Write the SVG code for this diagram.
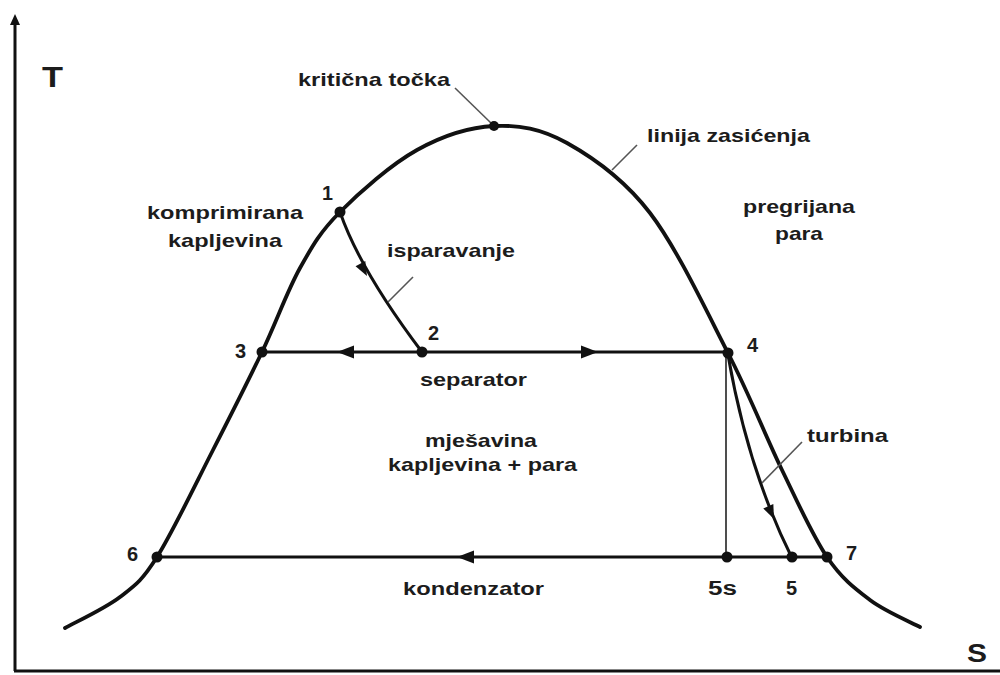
<svg xmlns="http://www.w3.org/2000/svg" xmlns:xlink="http://www.w3.org/1999/xlink" width="1000" height="675" viewBox="0 0 1000 675">
<style>
text{font-family:"Liberation Sans","Arial",sans-serif;font-weight:bold;fill:#1c1c1c;font-size:19px}
.big{font-size:30px}
.big2{font-size:25px}
.num{font-size:20px}
.axis{stroke:#111;stroke-width:3;fill:none}
.curve{stroke:#111;stroke-width:3.8;fill:none;stroke-linecap:round}
.proc{stroke:#111;stroke-width:3;fill:none}
.thin{stroke:#222;stroke-width:1.6;fill:none}
.lead{stroke:#555;stroke-width:1.6;fill:none}
.dot{fill:#111}
.ah{fill:#111}
</style>
<defs>
<path id="ah" d="M0,0 L-17,-6.5 L-17,6.5 Z"/>
<path id="ahs" d="M0,0 L-14,-5.5 L-14,5.5 Z"/>
</defs>
<rect width="1000" height="675" fill="#fff"/>

<g id="axes">
<path class="axis" d="M15,671 L15,22"/>
<path class="ah" d="M15,14 L10,25 L20,25 Z"/>
<path class="axis" d="M14,671 L1000,671"/>
<text class="big" x="42" y="87" textLength="21" lengthAdjust="spacingAndGlyphs">T</text>
<text class="big2" x="967" y="662" textLength="20" lengthAdjust="spacingAndGlyphs">S</text>
</g>

<g id="saturation-curve">
<path class="curve" d="M65,628 C74.2,622.8 104.7,608.8 120,597 C135.3,585.2 141.5,581.5 157,557 C172.5,532.5 195.5,484.2 213,450 C230.5,415.8 247.5,382.3 262,352 C276.5,321.7 287,291.3 300,268 C313,244.7 320.5,231.7 340,212 C359.5,192.3 391.3,164.3 417,150 C442.7,135.7 469,127.2 494,126 C519,124.8 541,128.5 567,143 C593,157.5 623.2,178 650,213 C676.8,248 706,310.2 728,353 C750,395.8 765.5,436 782,470 C798.5,504 812.3,535.3 827,557 C841.7,578.7 854.5,588.3 870,600 C885.5,611.7 911.7,622.5 920,627"/>
</g>

<g id="connectors">
<path class="proc" d="M340,212 Q360,270 422,352"/>
<use xlink:href="#ahs" class="ah" transform="translate(367,276) rotate(62)"/>
<path class="proc" d="M262,352 L728,352"/>
<use xlink:href="#ah" class="ah" transform="translate(337,352) rotate(180)"/>
<use xlink:href="#ah" class="ah" transform="translate(598,352)"/>
<path class="proc" d="M157,557 L827,557"/>
<use xlink:href="#ah" class="ah" transform="translate(457,557) rotate(180)"/>
<path class="thin" d="M726,353 L726,557"/>
<path class="proc" stroke-width="2.6" d="M728,355 Q748,470 792,558"/>
<use xlink:href="#ahs" class="ah" transform="translate(774,519) rotate(66)"/>
</g>

<g id="leaders">
<path class="lead" d="M455,88 L492,124"/>
<path class="lead" d="M612,170 L637,145"/>
<path class="lead" d="M388,302 L413,277"/>
<path class="lead" d="M762,483 L802,442"/>
</g>

<g id="node-critical"><circle class="dot" cx="494" cy="126" r="5"/><text x="298" y="86" textLength="152" lengthAdjust="spacingAndGlyphs">kritična točka</text></g>
<g id="label-saturation"><text x="647" y="142" textLength="163" lengthAdjust="spacingAndGlyphs">linija zasićenja</text></g>
<g id="label-compressed"><text x="147" y="219" textLength="156" lengthAdjust="spacingAndGlyphs">komprimirana</text><text x="168" y="247" textLength="114" lengthAdjust="spacingAndGlyphs">kapljevina</text></g>
<g id="label-superheated"><text x="743" y="213" textLength="112" lengthAdjust="spacingAndGlyphs">pregrijana</text><text x="775" y="240" textLength="48" lengthAdjust="spacingAndGlyphs">para</text></g>
<g id="label-evaporation"><text x="387" y="257" textLength="128" lengthAdjust="spacingAndGlyphs">isparavanje</text></g>
<g id="label-separator"><text x="420" y="386" textLength="107" lengthAdjust="spacingAndGlyphs">separator</text></g>
<g id="label-mixture"><text x="425" y="447" textLength="112" lengthAdjust="spacingAndGlyphs">mješavina</text><text x="388" y="471" textLength="189" lengthAdjust="spacingAndGlyphs">kapljevina + para</text></g>
<g id="label-turbine"><text x="807" y="442" textLength="81" lengthAdjust="spacingAndGlyphs">turbina</text></g>
<g id="label-condenser"><text x="403" y="595" textLength="141" lengthAdjust="spacingAndGlyphs">kondenzator</text></g>

<g id="node-1"><circle class="dot" cx="340" cy="212" r="5.5"/><text class="num" x="322" y="200" textLength="11" lengthAdjust="spacingAndGlyphs">1</text></g>
<g id="node-2"><circle class="dot" cx="422" cy="352" r="5.5"/><text class="num" x="428" y="340">2</text></g>
<g id="node-3"><circle class="dot" cx="262" cy="352" r="5.5"/><text class="num" x="235" y="358">3</text></g>
<g id="node-4"><circle class="dot" cx="728" cy="353" r="5.5"/><text class="num" x="747" y="352">4</text></g>
<g id="node-6"><circle class="dot" cx="157" cy="557" r="5.5"/><text class="num" x="127" y="561">6</text></g>
<g id="node-7"><circle class="dot" cx="827" cy="557" r="5.5"/><text class="num" x="846" y="560">7</text></g>
<g id="node-5s"><circle class="dot" cx="727" cy="557" r="5.5"/><text class="num" x="708" y="595" textLength="29" lengthAdjust="spacingAndGlyphs">5s</text></g>
<g id="node-5"><circle class="dot" cx="792" cy="557" r="5.5"/><text class="num" x="786" y="595">5</text></g>
</svg>
